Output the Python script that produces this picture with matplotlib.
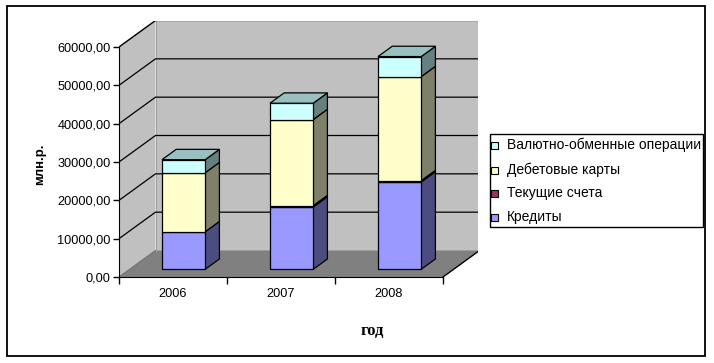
import matplotlib
matplotlib.use("Agg")
import matplotlib.pyplot as plt
from matplotlib.patches import Polygon, Rectangle
import numpy as np

# ---- data ----
years = ["2006", "2007", "2008"]
series_names = ["Кредиты", "Текущие счета", "Дебетовые карты", "Валютно-обменные операции"]
kredity = [9800, 16250, 22780]
tekushie = [0, 350, 350]
debet = [15400, 22450, 27130]
valyuta = [3400, 4280, 5240]
y_ticks = [0, 10000, 20000, 30000, 40000, 50000, 60000]

front_colors = ["#9999FF", "#993366", "#FFFFCC", "#CCFFFF"]
side_colors = ["#4C4C80", "#4D1A33", "#80806A", "#668080"]
top_colors = ["#7373BF", "#732650", "#BFBF99", "#99C0C0"]

W, H = 714, 363
fig = plt.figure(figsize=(W / 100, H / 100), dpi=100)
fig.patch.set_facecolor("white")

# frame around the chart area
fig.add_artist(Rectangle((7 / W, 1 - 356 / H), (705 - 7) / W, (356 - 6) / H,
                         transform=fig.transFigure, fill=False, ec="black", lw=1.3))

# axes geometry (pixels)
px_left, px_right = 119, 478.5
px_bottom, px_top = 277, 21
cat_px = 108.0
ymax = 60000
y_px = 230.0
depth_dx_px, depth_dy_px = 36.5, 26.5

ax = fig.add_axes([px_left / W, 1 - px_bottom / H,
                   (px_right - px_left) / W, (px_bottom - px_top) / H])
xmax = (px_right - px_left) / cat_px
ylim_top = (px_bottom - px_top) / y_px * ymax
ax.set_xlim(0, xmax)
ax.set_ylim(0, ylim_top)
ax.patch.set_visible(False)

DX = depth_dx_px / cat_px
DY = depth_dy_px / y_px * ymax
ncat = len(years)

# walls and floor
ax.add_patch(Polygon([(DX, DY), (ncat + DX, DY), (ncat + DX, ymax + DY), (DX, ymax + DY)],
                     closed=True, fc="#C0C0C0", ec="none", zorder=1))
ax.add_patch(Polygon([(0, 0), (DX, DY), (DX, ymax + DY), (0, ymax)],
                     closed=True, fc="#C0C0C0", ec="none", zorder=1))
ax.add_patch(Polygon([(0, 0), (ncat, 0), (ncat + DX, DY), (DX, DY)],
                     closed=True, fc="#808080", ec="none", zorder=1))
# wall edges
ax.plot([ncat + DX, ncat + DX], [DY, ymax + DY], color="#808080", lw=1, zorder=2)
ax.plot([0, DX], [ymax, ymax + DY], color="#808080", lw=1, zorder=2)
ax.plot([DX, DX], [DY, ymax + DY], color="#A0A0A0", lw=0.8, zorder=2)
ax.plot([ncat, ncat + DX], [0, DY], color="black", lw=1, zorder=2)
ax.plot([0, DX], [0, DY], color="#707070", lw=0.8, zorder=2)

# gridlines
for v in y_ticks[1:]:
    ax.plot([0, DX, ncat + DX], [v, v + DY, v + DY], color="black", lw=0.9, zorder=2)

# bars
f0, f1 = 0.29, 0.68
bw0, bw1 = 0.30, 0.70
data = [kredity, tekushie, debet, valyuta]
for i in range(ncat):
    bottom = 0.0
    x0 = i + bw0
    x1 = i + bw1
    nonzero = [k for k in range(len(data)) if data[k][i] > 0]
    top_k = nonzero[-1]
    for k in range(len(data)):
        v = data[k][i]
        if v <= 0:
            continue
        lo, hi = bottom, bottom + v
        # side face
        ax.add_patch(Polygon([(x1 + f0 * DX, lo + f0 * DY), (x1 + f1 * DX, lo + f1 * DY),
                              (x1 + f1 * DX, hi + f1 * DY), (x1 + f0 * DX, hi + f0 * DY)],
                             closed=True, fc=side_colors[k], ec="black", lw=0.9, zorder=3))
        # front face
        ax.add_patch(Polygon([(x0 + f0 * DX, lo + f0 * DY), (x1 + f0 * DX, lo + f0 * DY),
                              (x1 + f0 * DX, hi + f0 * DY), (x0 + f0 * DX, hi + f0 * DY)],
                             closed=True, fc=front_colors[k], ec="black", lw=0.9, zorder=4))
        if k == top_k:
            ax.add_patch(Polygon([(x0 + f0 * DX, hi + f0 * DY), (x1 + f0 * DX, hi + f0 * DY),
                                  (x1 + f1 * DX, hi + f1 * DY), (x0 + f1 * DX, hi + f1 * DY)],
                                 closed=True, fc=top_colors[k], ec="black", lw=0.9, zorder=4))
        bottom = hi

# axes: spines & ticks
for s in ["top", "right"]:
    ax.spines[s].set_visible(False)
ax.spines["left"].set_bounds(0, ymax)
ax.spines["bottom"].set_bounds(0, ncat)
ax.spines["left"].set_zorder(5)
ax.spines["bottom"].set_zorder(5)
ax.set_yticks(y_ticks)
ax.set_yticklabels([f"{v:.2f}".replace(".", ",") for v in y_ticks],
                   fontsize=9.2, family="Liberation Sans")
ax.tick_params(axis="y", length=4, width=1, pad=2)
ax.set_xticks(np.arange(ncat + 1))
ax.set_xticklabels([])
ax.set_xticks(np.arange(ncat) + 0.5, minor=True)
ax.set_xticklabels(years, minor=True, fontsize=9.2, family="Liberation Sans")
ax.tick_params(axis="x", which="major", length=5, width=1)
ax.tick_params(axis="x", which="minor", length=0, pad=8)

# axis titles
fig.text(40 / W, 1 - 164 / H, "млн.р.", rotation=90, ha="center", va="center",
         fontsize=9.5, fontweight="bold", family="Liberation Sans")
fig.text(372 / W, 1 - 331 / H, "год", ha="center", va="center",
         fontsize=12, fontweight="bold", family="Liberation Serif")

# legend
lx0, ly0, lx1, ly1 = 490, 134, 703, 227
fig.add_artist(Rectangle((lx0 / W, 1 - ly1 / H), (lx1 - lx0) / W, (ly1 - ly0) / H,
                         transform=fig.transFigure, fill=True, fc="white", ec="black", lw=1))
leg_order = [3, 2, 1, 0]
leg_y = [145, 170, 193, 217]
for k, yy in zip(leg_order, leg_y):
    fig.add_artist(Rectangle((491 / W, 1 - (yy + 3.5) / H), 7 / W, 7 / H,
                             transform=fig.transFigure, fc=front_colors[k], ec="black", lw=0.8))
    fig.text(507 / W, 1 - yy / H, series_names[k], ha="left", va="center",
             fontsize=10, family="Liberation Sans")

fig.savefig("out.png", dpi=100)
